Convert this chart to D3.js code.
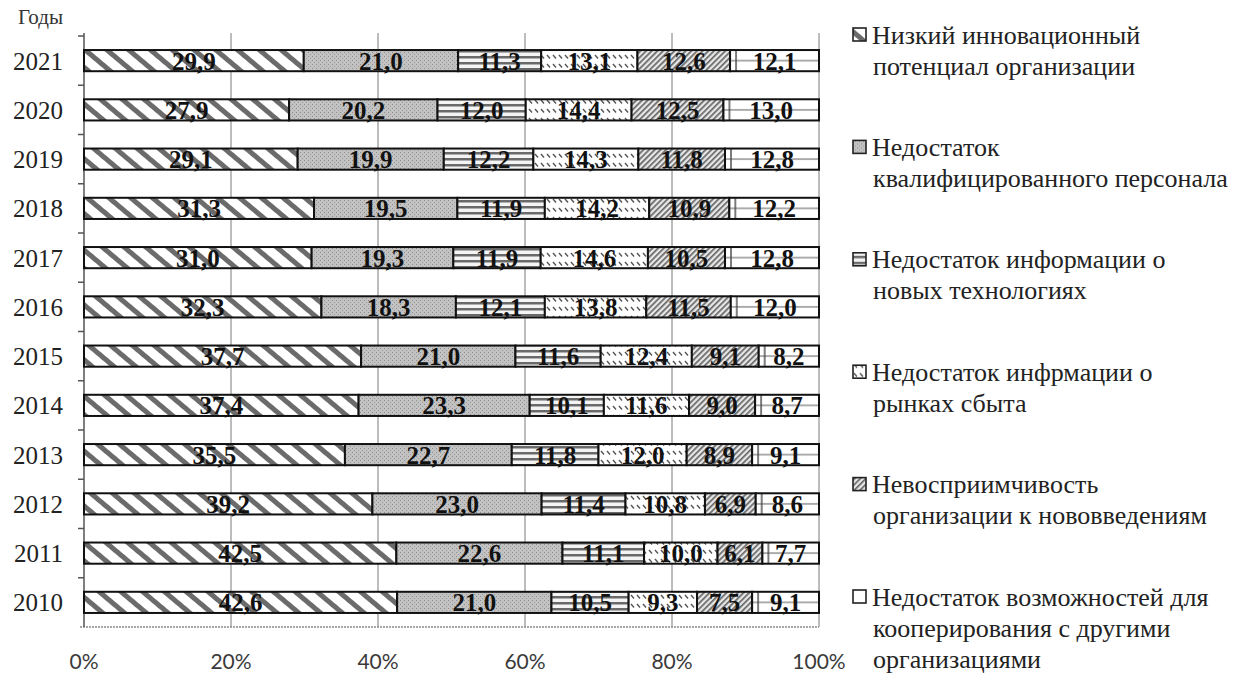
<!DOCTYPE html>
<html>
<head>
<meta charset="utf-8">
<script src="https://cdnjs.cloudflare.com/ajax/libs/d3/7.8.5/d3.min.js"></script>
<style>
  body { margin: 0; background: #fff; }
  svg { display: block; }
</style>
</head>
<body>
<div id="chart"></div>
<script>
// Values, top row (2021) to bottom row (2010)
var years = ['2021', '2020', '2019', '2018', '2017', '2016', '2015', '2014', '2013', '2012', '2011', '2010'];
var lowPotential  = [29.9, 27.9, 29.1, 31.3, 31.0, 32.3, 37.7, 37.4, 35.5, 39.2, 42.5, 42.6];
var staffShortage = [21.0, 20.2, 19.9, 19.5, 19.3, 18.3, 21.0, 23.3, 22.7, 23.0, 22.6, 21.0];
var techInfo      = [11.3, 12.0, 12.2, 11.9, 11.9, 12.1, 11.6, 10.1, 11.8, 11.4, 11.1, 10.5];
var marketInfo    = [13.1, 14.4, 14.3, 14.2, 14.6, 13.8, 12.4, 11.6, 12.0, 10.8, 10.0, 9.3];
var resistance    = [12.6, 12.5, 11.8, 10.9, 10.5, 11.5, 9.1, 9.0, 8.9, 6.9, 6.1, 7.5];
var cooperation   = [12.1, 13.0, 12.8, 12.2, 12.8, 12.0, 8.2, 8.7, 9.1, 8.6, 7.7, 9.1];

var seriesKeys = ['lowPotential', 'staffShortage', 'techInfo', 'marketInfo', 'resistance', 'cooperation'];
var legendLabels = [
    ['Низкий инновационный', 'потенциал организации'],
    ['Недостаток', 'квалифицированного персонала'],
    ['Недостаток информации о', 'новых технологиях'],
    ['Недостаток инфрмации о', 'рынках сбыта'],
    ['Невосприимчивость', 'организации к нововведениям'],
    ['Недостаток возможностей для', 'кооперирования с другими', 'организациями']
];
var xTicks = [0, 0.2, 0.4, 0.6, 0.8, 1];
var yAxisTitle = 'Годы';

var Chart = (function(){

    var serif = '"Liberation Serif", "Times New Roman", "DejaVu Serif", serif',
        sans = 'Lato, "Open Sans", sans-serif',
        asLabel = function(v){ return d3.format('.1f')(v).replace('.', ','); };

    var sizes = {width: 1237, height: 676},
        plot = {left: 84, right: 819, top: 36, bottom: 627};

    var columns = {
        lowPotential: lowPotential, staffShortage: staffShortage, techInfo: techInfo,
        marketInfo: marketInfo, resistance: resistance, cooperation: cooperation
    };
    var rows = years.map(function(yr, i){
        var r = {year: yr};
        seriesKeys.forEach(function(k){ r[k] = columns[k][i]; });
        return r;
    });

    var stacked = d3.stack().keys(seriesKeys).offset(d3.stackOffsetExpand)(rows);

    var x = d3.scaleLinear().domain([0, 1]).range([plot.left, plot.right]);
    var y = d3.scaleBand().domain(years).range([plot.top, plot.bottom])
              .paddingInner(0.57).paddingOuter(0.285);
    var bw = y.bandwidth();

    var svg = d3.select('#chart')
                .append('svg')
                .attr('width', sizes.width)
                .attr('height', sizes.height);

    // hatch fills
    var defs = svg.append('defs');

    var p1 = defs.append('pattern').attr('id', 'pat-lowPotential')
        .attr('patternUnits', 'userSpaceOnUse').attr('width', 14).attr('height', 14)
        .attr('patternTransform', 'rotate(-50)');
    p1.append('rect').attr('width', 14).attr('height', 14).attr('fill', '#fff');
    p1.append('rect').attr('width', 5).attr('height', 14).attr('fill', '#6b6b6b');

    var p2 = defs.append('pattern').attr('id', 'pat-staffShortage')
        .attr('patternUnits', 'userSpaceOnUse').attr('width', 4).attr('height', 4);
    p2.append('rect').attr('width', 4).attr('height', 4).attr('fill', '#c2c2c2');
    p2.append('rect').attr('width', 1).attr('height', 1).attr('fill', '#8e8e8e');
    p2.append('rect').attr('x', 2).attr('y', 2).attr('width', 1).attr('height', 1).attr('fill', '#9a9a9a');

    var p3 = defs.append('pattern').attr('id', 'pat-techInfo')
        .attr('patternUnits', 'userSpaceOnUse').attr('width', 10).attr('height', 6);
    p3.append('rect').attr('width', 10).attr('height', 6).attr('fill', '#f4f4f4');
    p3.append('rect').attr('y', 2).attr('width', 10).attr('height', 2.5).attr('fill', '#6a6a6a');

    var p4 = defs.append('pattern').attr('id', 'pat-marketInfo')
        .attr('patternUnits', 'userSpaceOnUse').attr('width', 6).attr('height', 9);
    p4.append('rect').attr('width', 6).attr('height', 9).attr('fill', '#fff');
    p4.append('line').attr('x1', 1).attr('y1', 1).attr('x2', 4).attr('y2', 4.5)
        .attr('stroke', '#555').attr('stroke-width', 1.4);

    var p5 = defs.append('pattern').attr('id', 'pat-resistance')
        .attr('patternUnits', 'userSpaceOnUse').attr('width', 4).attr('height', 4)
        .attr('patternTransform', 'rotate(45)');
    p5.append('rect').attr('width', 4).attr('height', 4).attr('fill', '#e8e8e8');
    p5.append('rect').attr('width', 1.7).attr('height', 4).attr('fill', '#666');

    var p6 = defs.append('pattern').attr('id', 'pat-cooperation')
        .attr('patternUnits', 'objectBoundingBox').attr('width', 1).attr('height', 1);
    p6.append('rect').attr('width', 1000).attr('height', 100).attr('fill', '#fff');
    p6.append('line').attr('x1', 0).attr('x2', 1000).attr('y1', bw / 2).attr('y2', bw / 2)
        .attr('stroke', '#555').attr('stroke-width', 1.2);
    p6.append('line').attr('x1', 6).attr('x2', 6).attr('y1', 0).attr('y2', bw)
        .attr('stroke', '#444').attr('stroke-width', 1.4);

    // grid lines
    svg.append('g').selectAll('line')
        .data(xTicks.slice(1))
        .enter()
        .append('line')
        .attr('x1', function(d){ return x(d); })
        .attr('x2', function(d){ return x(d); })
        .attr('y1', plot.top - 3)
        .attr('y2', plot.bottom)
        .attr('stroke', '#7a7a7a')
        .attr('stroke-width', 1);

    // bottom axis line and tick labels
    svg.append('line')
        .attr('x1', plot.left - 4).attr('x2', plot.right)
        .attr('y1', plot.bottom).attr('y2', plot.bottom)
        .attr('stroke', '#8a8a8a').attr('stroke-width', 1.5)
        .attr('stroke-dasharray', '2,1');

    svg.append('g').selectAll('text')
        .data(xTicks)
        .enter()
        .append('text')
        .attr('x', function(d){ return x(d); })
        .attr('y', plot.bottom + 42)
        .attr('text-anchor', 'middle')
        .style('font-family', sans)
        .style('font-size', '21px')
        .style('fill', '#3a3a3a')
        .text(d3.format('.0%'));

    // left axis with ticks between categories
    svg.append('line')
        .attr('x1', plot.left).attr('x2', plot.left)
        .attr('y1', plot.top - 3).attr('y2', plot.bottom)
        .attr('stroke', '#555').attr('stroke-width', 1.5);

    svg.append('g').selectAll('line')
        .data(years)
        .enter()
        .append('line')
        .attr('x1', plot.left - 6).attr('x2', plot.left)
        .attr('y1', function(d){ return y(d) - (y.step() - bw) / 2; })
        .attr('y2', function(d){ return y(d) - (y.step() - bw) / 2; })
        .attr('stroke', '#555').attr('stroke-width', 1.5);

    svg.append('g').selectAll('text')
        .data(years)
        .enter()
        .append('text')
        .attr('x', plot.left - 21)
        .attr('y', function(d){ return y(d) + bw / 2; })
        .attr('dy', '0.36em')
        .attr('text-anchor', 'end')
        .style('font-family', serif)
        .style('font-size', '25px')
        .style('fill', '#222')
        .text(function(d){ return d; });

    svg.append('text')
        .attr('x', plot.left - 21)
        .attr('y', 24)
        .attr('text-anchor', 'end')
        .style('font-family', serif)
        .style('font-size', '21px')
        .style('fill', '#333')
        .text(yAxisTitle);

    // stacked bars
    var layers = svg.append('g').selectAll('g')
        .data(stacked)
        .enter()
        .append('g')
        .attr('fill', function(s){ return 'url(#pat-' + s.key + ')'; });

    layers.selectAll('rect')
        .data(function(s){ return s; })
        .enter()
        .append('rect')
        .attr('x', function(d){ return x(d[0]); })
        .attr('y', function(d){ return y(d.data.year); })
        .attr('width', function(d){ return x(d[1]) - x(d[0]); })
        .attr('height', bw)
        .attr('stroke', '#111')
        .attr('stroke-width', 2);

    // value labels
    stacked.forEach(function(s){
        svg.append('g').selectAll('text')
            .data(s)
            .enter()
            .append('text')
            .attr('x', function(d){ return (x(d[0]) + x(d[1])) / 2; })
            .attr('y', function(d){ return y(d.data.year) + bw / 2; })
            .attr('dy', '0.36em')
            .attr('text-anchor', 'middle')
            .style('font-family', serif)
            .style('font-weight', 'bold')
            .style('font-size', '25px')
            .style('fill', '#111')
            .text(function(d){ return asLabel(d.data[s.key]); });
    });

    // legend
    var legend = svg.append('g').attr('transform', 'translate(853,35)');
    var items = legend.selectAll('g')
        .data(seriesKeys)
        .enter()
        .append('g')
        .attr('transform', function(d, i){ return 'translate(0,' + (i * 112.4) + ')'; });

    items.append('rect')
        .attr('x', 0).attr('y', -7)
        .attr('width', 13).attr('height', 13)
        .attr('fill', function(d){ return d === 'cooperation' ? '#fff' : 'url(#pat-' + d + ')'; })
        .attr('stroke', '#222')
        .attr('stroke-width', 1.6);

    items.append('text')
        .attr('x', 19)
        .attr('y', 0)
        .style('font-family', serif)
        .style('font-size', '26px')
        .style('fill', '#222')
        .selectAll('tspan')
        .data(function(d, i){ return legendLabels[i]; })
        .enter()
        .append('tspan')
        .attr('x', function(d, j){ return j === 0 ? 19 : 20; })
        .attr('y', function(d, j){ return j * 31; })
        .attr('dy', '0.33em')
        .text(function(d){ return d; });

    return {
        svg: svg,
        stacked: stacked
    };
}());
</script>
</body>
</html>
